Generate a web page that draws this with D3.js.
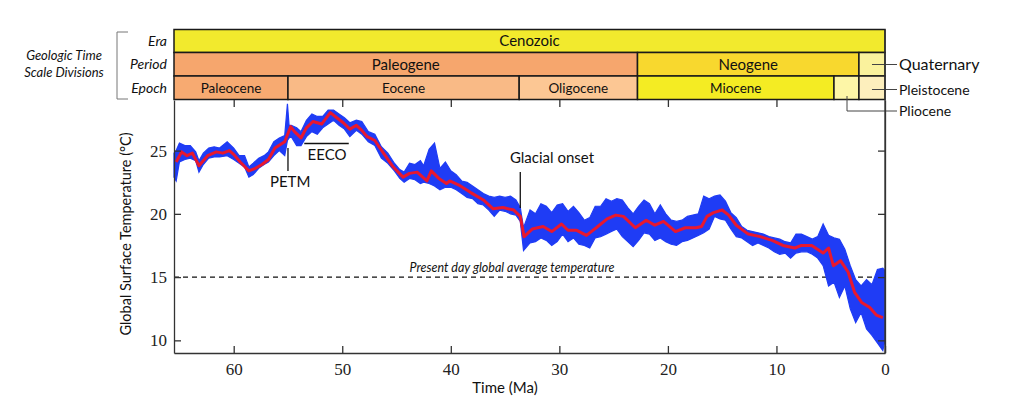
<!DOCTYPE html>
<html><head><meta charset="utf-8">
<script src="https://cdn.jsdelivr.net/npm/d3@7/dist/d3.min.js"></script>
<style>
body{margin:0;background:#fff;}
svg{display:block;}
</style></head>
<body>
<svg id="c" width="1024" height="419"></svg>
<script>
// ---- data ----
const xTicks = [60, 50, 40, 30, 20, 10, 0];
const yTicks = [10, 15, 20, 25];

const eraNames = ["Cenozoic"];
const eraStart = [65.5];
const eraEnd = [0];
const eraColors = ["#f2ea2d"];

const periodNames = ["Paleogene", "Neogene", ""];
const periodStart = [65.5, 22.8, 2.4];
const periodEnd = [22.8, 2.4, 0];
const periodColors = ["#f6a66d", "#f8d82e", "#faf29d"];

const epochNames = ["Paleocene", "Eocene", "Oligocene", "Miocene", "", ""];
const epochStart = [65.5, 55.0, 33.7, 22.8, 4.7, 2.4];
const epochEnd = [55.0, 33.7, 22.8, 4.7, 2.4, 0];
const epochColors = ["#f7aa71", "#f9ba86", "#fcc794", "#f4ec23", "#fdf6a7", "#fdefbd"];

// smoothed record (red)
const smoothAge = [65.3,64.8,64.3,63.8,63.2,62.4,61.6,61.0,60.4,60.0,59.4,58.6,58.0,57.4,56.8,56.2,55.3,54.75,54.4,53.8,53.3,52.7,51.9,51.1,50.5,49.9,49.3,48.7,48.2,47.7,47.0,46.2,45.3,44.4,43.8,43.1,42.2,41.8,41.1,40.4,40.1,39.3,38.2,37.0,36.1,35.2,34.2,33.6,33.25,32.5,31.5,30.7,29.8,29.2,28.4,27.5,26.6,25.6,24.8,24.1,23.0,22.0,21.2,20.4,19.3,18.4,17.4,16.9,16.4,15.8,15.0,14.4,13.7,12.6,11.5,10.4,9.4,8.3,7.7,6.75,5.7,5.2,4.76,4.1,3.4,2.8,2.15,1.4,0.8,0.2];
const smoothTemp = [24.1,24.9,24.6,24.8,23.8,24.6,24.9,24.8,25.0,24.7,24.1,23.4,23.6,23.9,24.3,25.2,25.7,26.9,26.5,26.0,26.8,27.3,27.1,28.0,27.6,27.2,26.7,27.0,26.6,26.1,25.8,24.8,23.7,22.9,23.2,23.3,22.6,23.4,22.8,22.4,22.6,22.3,21.7,21.1,20.4,20.5,20.3,19.8,18.2,18.8,19.0,18.6,19.2,18.7,18.7,18.3,18.9,19.6,19.9,19.8,18.9,19.5,19.1,19.4,18.6,18.9,18.9,19.0,19.8,20.1,20.3,19.9,19.1,18.4,18.2,17.9,17.5,17.3,17.5,17.5,16.9,17.3,15.9,16.3,15.4,13.8,13.0,12.6,12.0,11.8];

// raw record (blue): age, low and high envelope
const rawAge = [65.5,65.3,65.0,64.5,64.0,63.5,63.2,62.8,62.3,61.8,61.3,60.6,60.0,59.5,59.0,58.6,58.2,57.7,57.2,56.8,56.3,55.8,55.3,55.05,54.9,54.7,54.2,53.8,53.3,52.8,52.3,51.8,51.3,50.8,50.3,49.8,49.3,48.7,48.2,47.6,47.0,46.4,45.8,45.2,44.7,44.3,43.8,43.3,42.8,42.5,42.0,41.5,41.0,40.5,40.0,39.5,39.0,38.5,38.0,37.5,37.0,36.5,36.0,35.5,35.0,34.5,34.0,33.6,33.3,32.7,32.2,31.7,31.2,30.7,30.2,29.7,29.2,28.7,28.2,27.7,27.2,26.7,26.2,25.7,25.2,24.7,24.2,23.7,23.2,22.7,22.2,21.7,21.2,20.7,20.2,19.7,19.2,18.7,18.2,17.7,17.2,16.7,16.2,15.7,15.2,14.7,14.2,13.7,13.2,12.7,12.2,11.7,11.2,10.7,10.2,9.7,9.2,8.7,8.2,7.7,7.2,6.7,6.2,5.7,5.2,4.7,4.2,3.7,3.2,2.7,2.2,1.7,1.2,0.7,0.2,0.0];
const rawLow = [22.9,22.6,24.1,24.3,24.4,24.2,23.3,23.9,24.4,24.5,24.5,24.6,24.3,24.0,23.7,22.9,23.1,23.6,23.9,24.1,24.6,25.0,24.6,25.8,26.0,26.1,25.4,25.4,26.1,26.5,26.3,26.8,27.1,27.4,27.0,26.7,26.1,26.6,26.3,25.7,25.4,24.4,24.0,23.4,22.8,22.5,22.8,22.7,22.4,22.5,22.4,22.2,21.9,22.1,22.1,21.9,21.6,21.3,21.2,20.8,20.7,20.3,19.8,20.3,20.2,20.0,19.9,19.4,17.1,17.7,17.8,18.1,17.9,17.5,17.8,18.4,17.8,18.1,17.6,17.5,17.3,18.1,18.2,18.4,18.6,18.8,18.2,17.8,17.4,17.9,18.5,18.4,17.9,18.1,17.8,17.6,17.5,17.8,17.9,18.1,18.3,18.5,18.8,19.8,19.6,19.5,18.8,18.2,18.1,17.8,17.5,17.7,17.5,17.3,17.0,16.8,16.9,16.5,16.9,17.0,17.0,16.8,16.5,15.9,14.3,14.6,13.4,14.3,12.5,11.4,12.2,10.9,10.4,9.8,9.2,10.0];
const rawHigh = [24.8,25.0,25.6,25.4,25.4,24.9,24.2,24.8,25.2,25.3,25.2,25.7,25.2,24.6,24.6,23.7,24.0,24.4,24.6,24.9,25.7,26.0,26.2,28.7,27.0,27.0,26.8,26.5,27.4,27.9,27.7,27.7,28.2,28.2,27.9,27.6,27.2,27.4,27.3,26.5,26.3,25.3,24.8,24.0,23.5,23.3,24.0,23.9,24.2,23.8,25.1,25.6,23.6,24.1,23.4,23.1,22.6,22.5,22.2,21.9,21.6,21.4,21.3,21.4,21.3,21.4,21.1,20.5,18.9,20.3,20.0,20.8,20.6,20.1,20.7,20.8,20.2,20.6,20.1,19.5,19.7,20.6,20.6,21.2,21.0,21.2,21.1,20.5,20.0,20.6,21.1,20.8,20.0,20.7,20.0,19.5,19.4,19.5,19.8,19.9,20.0,21.4,21.2,21.4,21.5,21.0,20.1,19.7,19.0,18.7,18.6,18.5,18.4,18.2,18.1,18.0,17.8,17.7,18.4,18.4,18.2,18.0,18.2,19.2,18.3,18.1,18.0,17.2,15.9,14.8,14.3,14.8,14.4,15.6,15.7,15.5];

// ---- drawing ----
const svg = d3.select("#c");
const L = 174, R = 885, T = 100, B = 353;
const x = d3.scaleLinear().domain([65.5, 0]).range([L, R]);
const y = d3.scaleLinear().domain([9, 29]).range([B, T]);
const sans = "Lato, 'Open Sans', sans-serif";
const serif = "'Liberation Serif', 'DejaVu Serif', serif";

// header rows
const rows = [
  {y0: 29.5, y1: 52.5, names: eraNames, s: eraStart, e: eraEnd, c: eraColors, fs: 15},
  {y0: 52.5, y1: 76, names: periodNames, s: periodStart, e: periodEnd, c: periodColors, fs: 15},
  {y0: 76, y1: 99.5, names: epochNames, s: epochStart, e: epochEnd, c: epochColors, fs: 13.5}
];
rows.forEach(r => {
  const g = svg.append("g");
  r.names.forEach((n, i) => {
    g.append("rect")
      .attr("x", x(r.s[i])).attr("y", r.y0)
      .attr("width", x(r.e[i]) - x(r.s[i])).attr("height", r.y1 - r.y0)
      .attr("fill", r.c[i]).attr("stroke", "#1a1a1a").attr("stroke-width", 1.5);
    if (n) g.append("text")
      .attr("x", (x(r.s[i]) + x(r.e[i])) / 2).attr("y", (r.y0 + r.y1) / 2 + r.fs * 0.36)
      .attr("text-anchor", "middle").attr("font-family", sans).attr("font-size", r.fs)
      .attr("fill", "#111").text(n);
  });
});

// row labels
const rowLabels = ["Era", "Period", "Epoch"];
rowLabels.forEach((t, i) => {
  svg.append("text").attr("x", 167).attr("y", (rows[i].y0 + rows[i].y1) / 2 + 5)
    .attr("text-anchor", "end").attr("font-family", sans).attr("font-style", "italic")
    .attr("font-size", 14).attr("fill", "#111").text(t);
});
svg.append("path").attr("d", "M128,32H117V99H128").attr("fill", "none")
  .attr("stroke", "#777").attr("stroke-width", 1);
svg.append("text").attr("x", 64).attr("y", 60).attr("text-anchor", "middle")
  .attr("font-family", sans).attr("font-style", "italic").attr("font-size", 13).attr("fill", "#111")
  .text("Geologic Time");
svg.append("text").attr("x", 64).attr("y", 77).attr("text-anchor", "middle")
  .attr("font-family", sans).attr("font-style", "italic").attr("font-size", 13).attr("fill", "#111")
  .text("Scale Divisions");

// right-side callouts
const callG = svg.append("g").attr("stroke", "#444").attr("stroke-width", 1).attr("fill", "none");
callG.append("path").attr("d", `M${x(1.2)},64.5H897`);
callG.append("path").attr("d", `M${x(1.2)},89.5H897`);
callG.append("path").attr("d", `M${x(3.5)},96V111H897`);
[["Quaternary", 64.5, 16], ["Pleistocene", 89.5, 14], ["Pliocene", 111, 14]].forEach(d => {
  svg.append("text").attr("x", 899).attr("y", d[1] + d[2] * 0.36)
    .attr("font-family", sans).attr("font-size", d[2]).attr("fill", "#111").text(d[0]);
});

// present-day line
svg.append("line").attr("x1", L).attr("x2", R).attr("y1", y(15)).attr("y2", y(15))
  .attr("stroke", "#111").attr("stroke-width", 1.4).attr("stroke-dasharray", "5,4");
svg.append("text").attr("x", 512).attr("y", y(15) - 5).attr("text-anchor", "middle")
  .attr("font-family", sans).attr("font-style", "italic").attr("font-size", 12.5).attr("fill", "#111")
  .text("Present day global average temperature");

// raw series band
const raw = rawAge.map((a, i) => ({a, lo: rawLow[i], hi: rawHigh[i]}));
svg.append("path").datum(raw)
  .attr("d", d3.area().x(d => x(d.a)).y0(d => y(d.lo)).y1(d => y(d.hi)))
  .attr("fill", "#1f3cf5").attr("stroke", "#1f3cf5").attr("stroke-width", 1.2)
  .attr("stroke-linejoin", "miter");

// smoothed series
const sm = smoothAge.map((a, i) => ({a, t: smoothTemp[i]}));
svg.append("path").datum(sm)
  .attr("d", d3.line().x(d => x(d.a)).y(d => y(d.t)))
  .attr("fill", "none").attr("stroke", "#e8182e").attr("stroke-width", 3)
  .attr("stroke-linejoin", "round");

// axes
const axCol = "#333";
function styleAxis(g) {
  g.selectAll("path,line").attr("stroke", axCol).attr("stroke-width", 1.3);
  g.selectAll("text").attr("font-family", serif).attr("font-size", 17).attr("fill", "#222");
}
svg.append("g").attr("transform", `translate(0,${B})`)
  .call(d3.axisBottom(x).tickValues(xTicks).tickSizeInner(-7).tickSizeOuter(0).tickPadding(10).tickFormat(d3.format("d")))
  .call(styleAxis);
svg.append("g").attr("transform", `translate(0,${T})`)
  .call(d3.axisTop(x).tickValues(xTicks.slice(0, 6)).tickSizeInner(-7).tickSizeOuter(0).tickFormat(""))
  .call(styleAxis).call(g => g.select(".domain").remove());
svg.append("g").attr("transform", `translate(${L},0)`)
  .call(d3.axisLeft(y).tickValues(yTicks).tickSizeInner(-7).tickSizeOuter(0).tickPadding(7).tickFormat(d3.format("d")))
  .call(styleAxis);
svg.append("g").attr("transform", `translate(${R},0)`)
  .call(d3.axisRight(y).tickValues(yTicks).tickSizeInner(-7).tickSizeOuter(0).tickFormat(""))
  .call(styleAxis);
svg.append("line").attr("x1", R).attr("x2", R).attr("y1", 29.5).attr("y2", B)
  .attr("stroke", axCol).attr("stroke-width", 1.3);

// axis titles
svg.append("text").attr("transform", "translate(131,234) rotate(-90)").attr("text-anchor", "middle")
  .attr("font-family", sans).attr("font-size", 14.5).attr("fill", "#111")
  .text("Global Surface Temperature (°C)");
svg.append("text").attr("x", 505).attr("y", 393).attr("text-anchor", "middle")
  .attr("font-family", sans).attr("font-size", 15).attr("fill", "#111").text("Time (Ma)");

// event annotations
const ann = svg.append("g").attr("stroke", "#111").attr("stroke-width", 1.3);
ann.append("line").attr("x1", x(55.0)).attr("x2", x(55.0)).attr("y1", 148).attr("y2", 171);
ann.append("line").attr("x1", x(53.5)).attr("x2", x(49.4)).attr("y1", 143.5).attr("y2", 143.5);
ann.append("line").attr("x1", x(33.6)).attr("x2", x(33.6)).attr("y1", 172).attr("y2", 208);
[["PETM", x(54.8), 187], ["EECO", x(51.4), 160], ["Glacial onset", 552, 163]].forEach(d => {
  svg.append("text").attr("x", d[1]).attr("y", d[2]).attr("text-anchor", "middle")
    .attr("font-family", sans).attr("font-size", 15).attr("fill", "#111").text(d[0]);
});
</script>
</body></html>
